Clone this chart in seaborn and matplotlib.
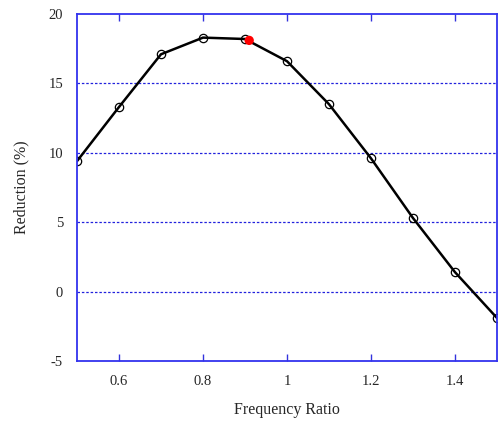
import matplotlib
matplotlib.use("Agg")
import matplotlib.pyplot as plt
import seaborn as sns
import pandas as pd

freq_ratio = [0.5, 0.6, 0.7, 0.8, 0.9, 1.0, 1.1, 1.2, 1.3, 1.4, 1.5]
reduction = [9.4, 13.3, 17.1, 18.3, 18.2, 16.6, 13.5, 9.6, 5.3, 1.4, -1.9]
opt_x = [0.91]
opt_y = [18.1]
x_ticks = [0.6, 0.8, 1.0, 1.2, 1.4]
x_tick_labels = ["0.6", "0.8", "1", "1.2", "1.4"]
y_ticks = [-5, 0, 5, 10, 15, 20]

sns.set_style("white")
plt.rcParams['font.family'] = ['Liberation Serif', 'DejaVu Serif']
plt.rcParams['axes.unicode_minus'] = False

df = pd.DataFrame({"x": freq_ratio, "y": reduction})
fig = plt.figure(figsize=(4.98, 4.21), dpi=100)
ax = fig.add_axes([0.1546, 0.1425, 0.8434, 0.8242])

for v in [0, 5, 10, 15]:
    ax.axhline(v, color="#2222dd", linestyle=(0, (2, 1.5)), linewidth=0.9, zorder=0)

sns.lineplot(data=df, x="x", y="y", ax=ax, color="black", linewidth=1.8,
             marker="o", markersize=6, markerfacecolor="none",
             markeredgecolor="black", markeredgewidth=0.9)
sns.scatterplot(x=opt_x, y=opt_y, ax=ax, color="red", s=45, edgecolor="none", zorder=5)

ax.set_xlim(0.5, 1.5)
ax.set_ylim(-5, 20)
ax.set_xticks(x_ticks)
ax.set_xticklabels(x_tick_labels)
ax.set_yticks(y_ticks)
ax.tick_params(axis="x", direction="in", top=True, bottom=True, length=5,
               color="#3333dd", width=1.0, labelsize=10.5, pad=10)
ax.tick_params(axis="y", length=0, labelsize=10.5, pad=10)
for s in ax.spines.values():
    s.set_color("#3333ee")
    s.set_linewidth(1.3)
    s.set_visible(True)
ax.set_xlabel("Frequency Ratio", fontsize=11.5, labelpad=10)
ax.set_ylabel("Reduction (%)", fontsize=11.5, labelpad=14)

fig.savefig("out.png", dpi=100)
